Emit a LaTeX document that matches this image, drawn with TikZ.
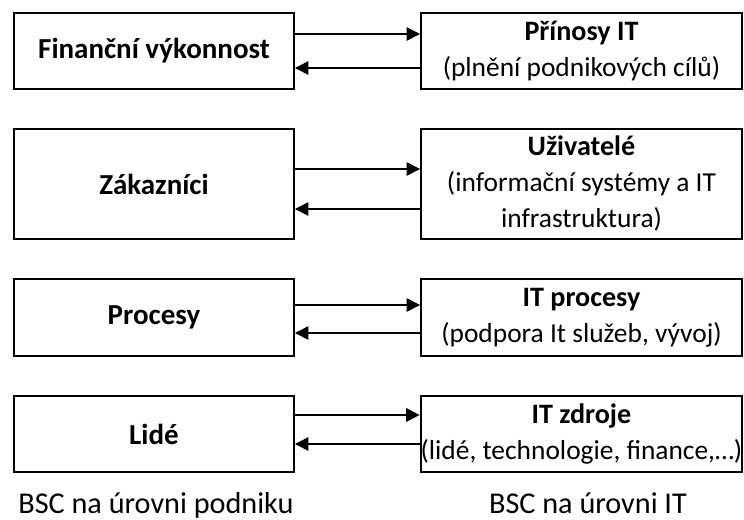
\documentclass[tikz,border=0pt]{standalone}
\usepackage{fontspec}
\setmainfont{Carlito}
\usetikzlibrary{arrows.meta}
\tikzset{
  bscbox/.style={draw, line width=1.1pt, inner sep=0pt, align=center,
    font=\fontsize{15.6}{20.5}\selectfont},
  tip/.style={line width=0.85pt, -{Triangle[length=0.27cm,width=0.27cm]}}
}
\newcommand{\nadpis}[1]{{\fontsize{16}{20.5}\selectfont\textbf{#1}}}
\begin{document}
\begin{tikzpicture}
\useasboundingbox (0,0) rectangle (14.88,-10.38);

% levy sloupec - podnik
\node[bscbox, minimum width=5.6cm, minimum height=1.52cm] (fin) at (3.08,-1.02) {\fontsize{16.5}{20}\selectfont\textbf{Finanční výkonnost}};
\node[bscbox, minimum width=5.6cm, minimum height=2.2cm] (zak) at (3.08,-3.68) {\fontsize{16.5}{20}\selectfont\textbf{Zákazníci}};
\node[bscbox, minimum width=5.6cm, minimum height=1.54cm] (proc) at (3.08,-6.35) {\fontsize{16.5}{20}\selectfont\textbf{Procesy}};
\node[bscbox, minimum width=5.6cm, minimum height=1.52cm] (lid) at (3.08,-8.68) {\fontsize{16.5}{20}\selectfont\textbf{Lidé}};

% pravy sloupec - IT
\node[bscbox, minimum width=6.42cm, minimum height=1.52cm] (prin) at (11.63,-1.02) {\nadpis{Přínosy IT}\\(plnění podnikových cílů)};
\node[bscbox, minimum width=6.42cm, minimum height=2.2cm] (uziv) at (11.63,-3.68) {\nadpis{Uživatelé}\\(informační systémy a IT\\infrastruktura)};
\node[bscbox, minimum width=6.42cm, minimum height=1.54cm] (itproc) at (11.63,-6.35) {\nadpis{IT procesy}\\(podpora It služeb, vývoj)};
\node[bscbox, minimum width=6.42cm, minimum height=1.52cm] (itzdr) at (11.63,-8.68) {\nadpis{IT zdroje}\\(lidé, technologie, finance,\dots)};

% sipky
\draw[tip] ([yshift=0.34cm]fin.east) -- ([yshift=0.34cm]prin.west);
\draw[tip] ([yshift=-0.34cm]prin.west) -- ([yshift=-0.34cm]fin.east);
\draw[tip] ([yshift=0.30cm]zak.east) -- ([yshift=0.30cm]uziv.west);
\draw[tip] ([yshift=-0.50cm]uziv.west) -- ([yshift=-0.50cm]zak.east);
\draw[tip] ([yshift=0.25cm]proc.east) -- ([yshift=0.25cm]itproc.west);
\draw[tip] ([yshift=-0.31cm]itproc.west) -- ([yshift=-0.31cm]proc.east);
\draw[tip] ([yshift=0.38cm]lid.east) -- ([yshift=0.38cm]itzdr.west);
\draw[tip] ([yshift=-0.20cm]itzdr.west) -- ([yshift=-0.20cm]lid.east);

% popisky
\node[font=\fontsize{17.2}{20}\selectfont, anchor=base west, inner sep=0pt] (podnik) at (0.36,-10.26) {BSC na úrovni podniku};
\node[font=\fontsize{17.2}{20}\selectfont, anchor=base, inner sep=0pt] (it) at (11.76,-10.26) {BSC na úrovni IT};
\end{tikzpicture}
\end{document}
